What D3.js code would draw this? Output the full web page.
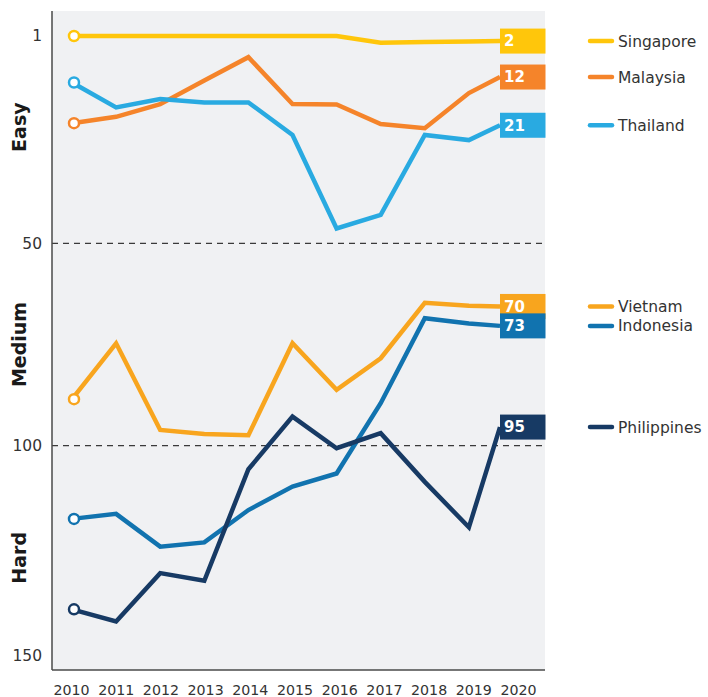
<!DOCTYPE html>
<html>
<head>
<meta charset="utf-8">
<script src="https://cdn.jsdelivr.net/npm/d3@7"></script>
<style>
  html, body { margin: 0; padding: 0; background: #ffffff; }
  svg { display: block; }
</style>
</head>
<body>
<svg id="chart" width="708" height="697"></svg>
<script>
// ---- data ----
const years = [2010, 2011, 2012, 2013, 2014, 2015, 2016, 2017, 2018, 2019, 2020];
const countries = ["Singapore", "Malaysia", "Thailand", "Vietnam", "Indonesia", "Philippines"];
const singapore   = [1, 1, 1, 1, 1, 1, 1, 2.6, 2.4, 2.3, 2.2];
const malaysia    = [21.6, 20.1, 17.1, 11.5, 6.0, 17.1, 17.2, 21.8, 22.8, 14.5, 10.7];
const thailand    = [12.0, 17.9, 15.9, 16.7, 16.7, 24.4, 46.5, 43.3, 24.4, 25.6, 22.1];
const vietnam     = [88.5, 74.7, 96.1, 97.1, 97.4, 74.7, 86.2, 78.4, 64.7, 65.4, 65.6];
const indonesia   = [117.4, 116.2, 124.0, 123.0, 115.3, 109.7, 106.6, 89.5, 68.5, 69.8, 70.4];
const philippines = [138.9, 141.8, 130.3, 132.1, 105.6, 92.8, 100.6, 96.9, 108.6, 119.4, 95.4];
const endLabels   = ["2", "12", "21", "70", "73", "95"];
const yTicks      = [1, 50, 100, 150];
const bandLabels  = ["Easy", "Medium", "Hard"];
const bandLimits  = [50, 100];
const colors      = ["#FFC60B", "#F5842A", "#29AAE1", "#F8A51E", "#1173AF", "#173A64"];

const seriesValues = [singapore, malaysia, thailand, vietnam, indonesia, philippines];

// ---- layout ----
const plotLeft = 52, plotRight = 545, plotTop = 11, plotBottom = 670;
const boxLeft = 500, boxH = 25;

const svg = d3.select("#chart");

const xLine = d3.scalePoint().domain(years).range([72, 513]);
const xAxisScale = d3.scalePoint().domain(years).range([71, 518]);
const y = d3.scaleLinear().domain([1, 50, 100, 150]).range([36, 243.3, 445.7, 656]);

// background
svg.append("rect")
  .attr("x", plotLeft).attr("y", plotTop)
  .attr("width", plotRight - plotLeft).attr("height", plotBottom - plotTop)
  .attr("fill", "#F0F1F3");

// dashed band separators
svg.selectAll("line.sep").data(bandLimits).join("line")
  .attr("class", "sep")
  .attr("x1", plotLeft).attr("x2", plotRight)
  .attr("y1", d => y(d)).attr("y2", d => y(d))
  .attr("stroke", "#3a3a3a").attr("stroke-width", 1.3)
  .attr("stroke-dasharray", "6,5");

// axes lines
svg.append("line").attr("x1", plotLeft).attr("x2", plotLeft)
  .attr("y1", plotTop).attr("y2", plotBottom)
  .attr("stroke", "#4a4a4a").attr("stroke-width", 1.5);
svg.append("line").attr("x1", plotLeft).attr("x2", plotRight)
  .attr("y1", plotBottom).attr("y2", plotBottom)
  .attr("stroke", "#4a4a4a").attr("stroke-width", 1.5);

// y tick labels
const yAxis = svg.append("g")
  .attr("transform", `translate(${plotLeft - 10},0)`)
  .call(d3.axisLeft(y).tickValues(yTicks).tickSize(0).tickPadding(0).tickFormat(d3.format("d")));
yAxis.select(".domain").remove();
yAxis.selectAll("text")
  .attr("font-family", "DejaVu Sans, sans-serif")
  .attr("font-size", 15.5)
  .attr("fill", "#333");

// x tick labels
const xAxis = svg.append("g")
  .attr("transform", `translate(0,${plotBottom})`)
  .call(d3.axisBottom(xAxisScale).tickSize(0).tickPadding(15).tickFormat(d3.format("d")));
xAxis.select(".domain").remove();
xAxis.selectAll("text")
  .attr("font-family", "DejaVu Sans, sans-serif")
  .attr("font-size", 14.2)
  .attr("fill", "#333");

// band labels (Easy / Medium / Hard)
const bandEdges = [plotTop, y(bandLimits[0]), y(bandLimits[1]), plotBottom];
svg.selectAll("text.band").data(bandLabels).join("text")
  .attr("class", "band")
  .attr("transform", (d, i) => `translate(26,${(bandEdges[i] + bandEdges[i + 1]) / 2}) rotate(-90)`)
  .attr("text-anchor", "middle")
  .attr("font-family", "DejaVu Sans, sans-serif")
  .attr("font-weight", "bold")
  .attr("font-size", 19)
  .attr("fill", "#1a1a1a")
  .text(d => d);

// lines
const lastIdx = years.length - 1;
const lineGen = d3.line()
  .x((d, i) => i === lastIdx ? boxLeft : xLine(years[i]))
  .y(d => y(d));

const series = countries.map((c, k) => ({ name: c, values: seriesValues[k], color: colors[k], label: endLabels[k] }));

svg.selectAll("path.series").data(series).join("path")
  .attr("class", "series")
  .attr("d", d => lineGen(d.values))
  .attr("fill", "none")
  .attr("stroke", d => d.color)
  .attr("stroke-width", 4.5)
  .attr("stroke-linejoin", "miter");

// start circles
svg.selectAll("circle.start").data(series).join("circle")
  .attr("class", "start")
  .attr("cx", xLine(years[0]) + 2)
  .attr("cy", d => y(d.values[0]))
  .attr("r", 5)
  .attr("fill", "#ffffff")
  .attr("stroke", d => d.color)
  .attr("stroke-width", 2.5);

// end label boxes
const endG = svg.selectAll("g.end").data(series).join("g")
  .attr("class", "end")
  .attr("transform", d => `translate(${boxLeft},${y(d.values[lastIdx])})`);
endG.append("rect")
  .attr("x", 0).attr("y", -boxH / 2)
  .attr("width", plotRight - boxLeft + 0.5).attr("height", boxH)
  .attr("fill", d => d.color);
endG.append("text")
  .attr("x", 4).attr("y", 0)
  .attr("dy", "0.36em")
  .attr("font-family", "DejaVu Sans, sans-serif")
  .attr("font-weight", "bold")
  .attr("font-size", 15)
  .attr("fill", "#ffffff")
  .text(d => d.label);

// legend
const legG = svg.selectAll("g.leg").data(series).join("g")
  .attr("class", "leg")
  .attr("transform", d => `translate(590,${y(d.values[lastIdx])})`);
legG.append("line")
  .attr("x1", 0).attr("x2", 22).attr("y1", 0).attr("y2", 0)
  .attr("stroke", d => d.color)
  .attr("stroke-width", 4.5)
  .attr("stroke-linecap", "round");
legG.append("text")
  .attr("x", 28).attr("y", 0).attr("dy", "0.36em")
  .attr("font-family", "DejaVu Sans, sans-serif")
  .attr("font-size", 15.5)
  .attr("fill", "#333")
  .text(d => d.name);
</script>
</body>
</html>
